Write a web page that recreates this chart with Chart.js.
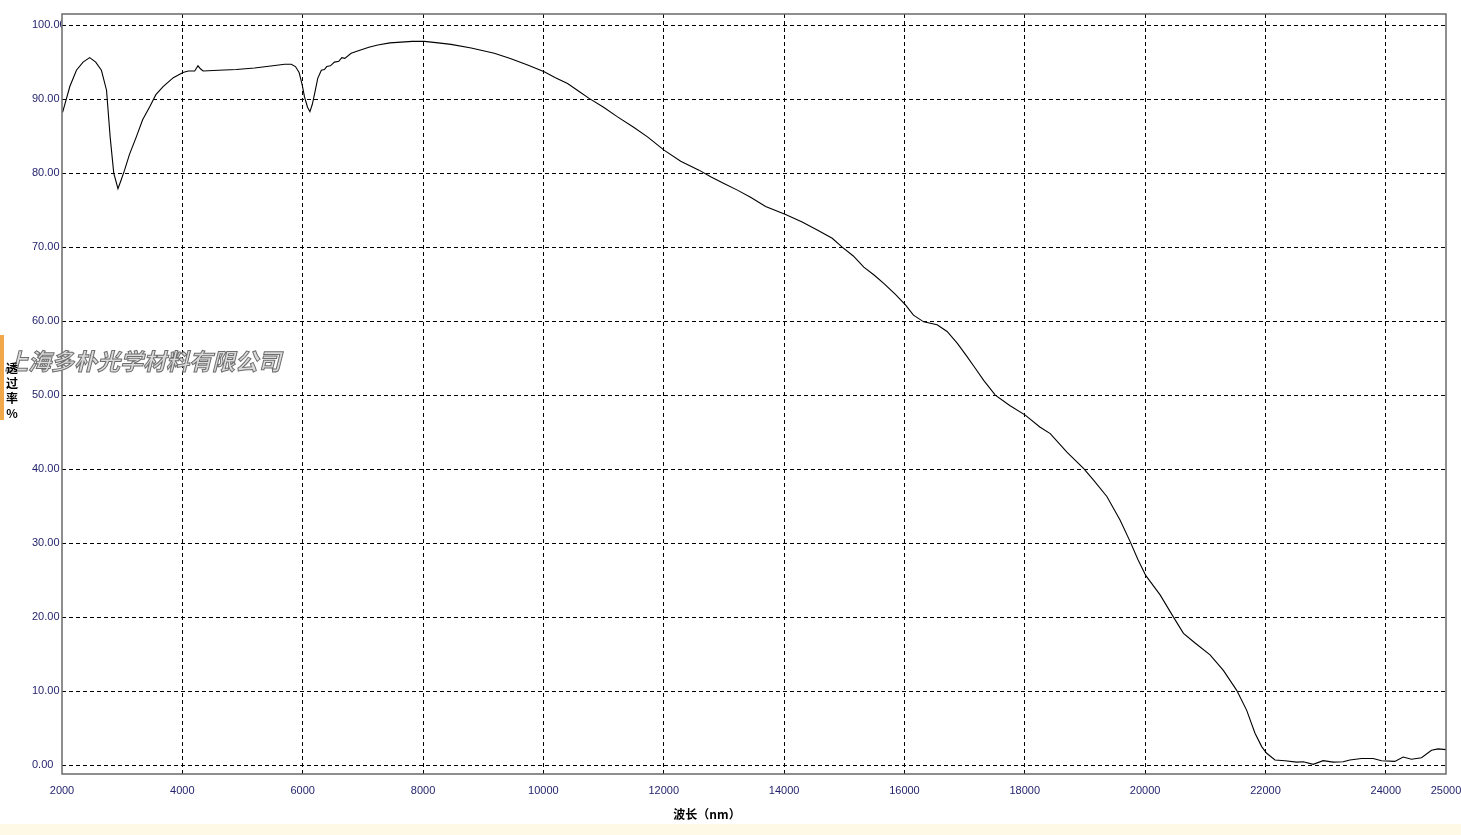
<!DOCTYPE html>
<html>
<head>
<meta charset="utf-8">
<script src="https://cdn.jsdelivr.net/npm/chart.js"></script>
<style>
  html, body { margin: 0; padding: 0; background: #fff; }
  #wrap { width: 1461px; height: 835px; }
</style>
</head>
<body>
<div id="wrap"><canvas id="chart" width="1461" height="835"></canvas></div>
<script>
// 波长 (nm) 与透过率 (%)
const wavelength = [
  2010, 2075, 2130, 2240, 2350, 2460, 2560, 2655, 2740, 2800, 2860, 2930, 2980, 3040, 3120,
  3235, 3340, 3460, 3560, 3680, 3850, 4010, 4100, 4205, 4260, 4300, 4345, 4600, 4895, 5200,
  5505, 5700, 5810, 5880, 5940, 5990, 6030, 6080, 6120, 6160, 6200, 6250, 6310, 6360, 6400,
  6460, 6528, 6600, 6650, 6700, 6805, 6950, 7100, 7248, 7450, 7635, 7820, 8022, 8250, 8465,
  8800, 9184, 9450, 9738, 10014, 10200, 10402, 10600, 10760, 11000, 11232, 11500, 11730, 12005, 12282,
  12586, 12780, 13000, 13224, 13450, 13693, 14025, 14300, 14551, 14800, 14966, 15150, 15325, 15500, 15656,
  15850, 16017, 16150, 16320, 16543, 16709, 16880, 17041, 17180, 17317, 17510, 17750, 18008, 18250, 18423,
  18700, 18976, 19143, 19364, 19585, 19751, 19880, 20012, 20249, 20471, 20637, 20830, 21079, 21300, 21522,
  21688, 21826, 21937, 22020, 22158, 22324, 22518, 22629, 22793, 22959, 23125, 23291, 23402, 23596, 23790,
  23929, 24150, 24288, 24427, 24593, 24759, 24870, 25000
];
const transmittance = [
  88.2, 90.1, 91.7, 93.9, 95.0, 95.6, 95.0, 93.9, 91.2, 84.9, 80.0, 77.9, 79.0, 80.4, 82.5,
  84.9, 87.2, 89.0, 90.6, 91.7, 92.9, 93.6, 93.8, 93.8, 94.5, 94.1, 93.8, 93.9, 94.0, 94.2,
  94.5, 94.7, 94.7, 94.4, 93.6, 92.0, 90.3, 88.9, 88.3, 89.3, 90.8, 92.8, 93.9, 94.0, 94.4,
  94.5, 95.0, 95.1, 95.6, 95.5, 96.2, 96.6, 97.0, 97.3, 97.6, 97.7, 97.8, 97.8, 97.6, 97.4,
  96.9, 96.2, 95.5, 94.6, 93.7, 92.9, 92.1, 91.0, 90.1, 88.9, 87.6, 86.2, 84.9, 83.1, 81.6,
  80.4, 79.5, 78.6, 77.7, 76.7, 75.5, 74.4, 73.4, 72.3, 71.2, 70.0, 68.8, 67.3, 66.2, 65.1,
  63.6, 62.2, 60.8, 59.9, 59.5, 58.6, 57.0, 55.2, 53.6, 52.0, 50.0, 48.6, 47.3, 45.7, 44.8,
  42.3, 40.1, 38.5, 36.3, 33.1, 30.2, 27.8, 25.6, 23.0, 20.0, 17.8, 16.5, 14.9, 12.8, 10.1,
  7.4, 4.3, 2.5, 1.6, 0.7, 0.6, 0.4, 0.45, 0.1, 0.6, 0.4, 0.45, 0.7, 0.9, 0.9,
  0.6, 0.5, 1.1, 0.8, 1.0, 2.0, 2.2, 2.1
];
// 刻度
const xTicks = [2000, 4000, 6000, 8000, 10000, 12000, 14000, 16000, 18000, 20000, 22000, 24000, 25000];
const yTicks = [0, 10, 20, 30, 40, 50, 60, 70, 80, 90, 100];
const xTitle = "波长（nm）";
const yTitle = ["透", "过", "率", "%"];
const watermark = "上海多朴光学材料有限公司";

document.addEventListener("DOMContentLoaded", () => {
    const tickColor = "#1f1f6b";
    const tickFont = { family: "'Liberation Sans', Arial, sans-serif", size: 11 };

    // 边框、标题、水印
    const decorations = {
        id: "decorations",
        beforeDraw(chart) {
            const ctx = chart.ctx;
            ctx.save();
            ctx.fillStyle = "#fdf9e6";
            ctx.fillRect(0, 824, chart.width, chart.height - 824);
            ctx.fillStyle = "#f0a84a";
            ctx.fillRect(0, 335, 4, 85);
            ctx.restore();
        },
        afterDraw(chart) {
            const ctx = chart.ctx;
            const a = chart.chartArea;
            ctx.save();
            // 边框
            ctx.strokeStyle = "#6a6a6a";
            ctx.lineWidth = 1.5;
            ctx.strokeRect(a.left, a.top, a.right - a.left, a.bottom - a.top);

            // 水印
            ctx.font = "italic bold 23px 'Noto Sans CJK SC', sans-serif";
            ctx.textAlign = "left";
            ctx.textBaseline = "middle";
            ctx.lineWidth = 1;
            ctx.fillStyle = "rgba(215,215,215,0.9)";
            ctx.strokeStyle = "#6e6e6e";
            ctx.fillText(watermark, 5, 361);
            ctx.strokeText(watermark, 5, 361);

            // 纵轴标题（竖排）
            ctx.fillStyle = "#000";
            ctx.font = "bold 12px 'Noto Sans CJK SC', sans-serif";
            ctx.textAlign = "center";
            yTitle.forEach((ch, i) => ctx.fillText(ch, 12, 368 + i * 15));

            // 横轴标题
            ctx.font = "bold 12px 'Noto Sans CJK SC', sans-serif";
            ctx.fillText(xTitle, 707, 814);
            ctx.restore();
        }
    };

    const points = wavelength.map((w, i) => ({ x: w, y: transmittance[i] }));

    new Chart(document.getElementById("chart").getContext("2d"), {
        type: "line",
        data: {
            datasets: [{
                data: points,
                borderColor: "#000",
                borderWidth: 1.1,
                pointRadius: 0,
                tension: 0,
                fill: false
            }]
        },
        options: {
            responsive: false,
            animation: false,
            layout: { padding: { left: 32, top: 14, right: 15, bottom: 0 } },
            plugins: { legend: { display: false }, tooltip: { enabled: false } },
            scales: {
                x: {
                    type: "linear",
                    min: 2000,
                    max: 25000,
                    afterBuildTicks: scale => { scale.ticks = xTicks.map(v => ({ value: v })); },
                    afterFit: scale => { scale.height = 61; scale.paddingLeft = 0; scale.paddingRight = 0; },
                    grid: {
                        drawTicks: false,
                        lineWidth: 1,
                        color: ctx => (ctx.tick && (ctx.tick.value === 2000 || ctx.tick.value === 25000)) ? "rgba(0,0,0,0)" : "#000"
                    },
                    border: { display: false, dash: [4, 3] },
                    ticks: {
                        autoSkip: false,
                        maxRotation: 0,
                        padding: 10,
                        color: tickColor,
                        font: tickFont,
                        callback: v => String(v)
                    }
                },
                y: {
                    min: -1.2,
                    max: 101.5,
                    afterBuildTicks: scale => { scale.ticks = yTicks.map(v => ({ value: v })); },
                    afterFit: scale => { scale.width = 30; },
                    grid: { drawTicks: false, lineWidth: 1, color: "#000" },
                    border: { display: false, dash: [4, 3] },
                    ticks: {
                        crossAlign: "far",
                        padding: 0,
                        color: tickColor,
                        font: tickFont,
                        callback: v => Number(v).toFixed(2)
                    }
                }
            }
        },
        plugins: [decorations]
    });
});
</script>
</body>
</html>
